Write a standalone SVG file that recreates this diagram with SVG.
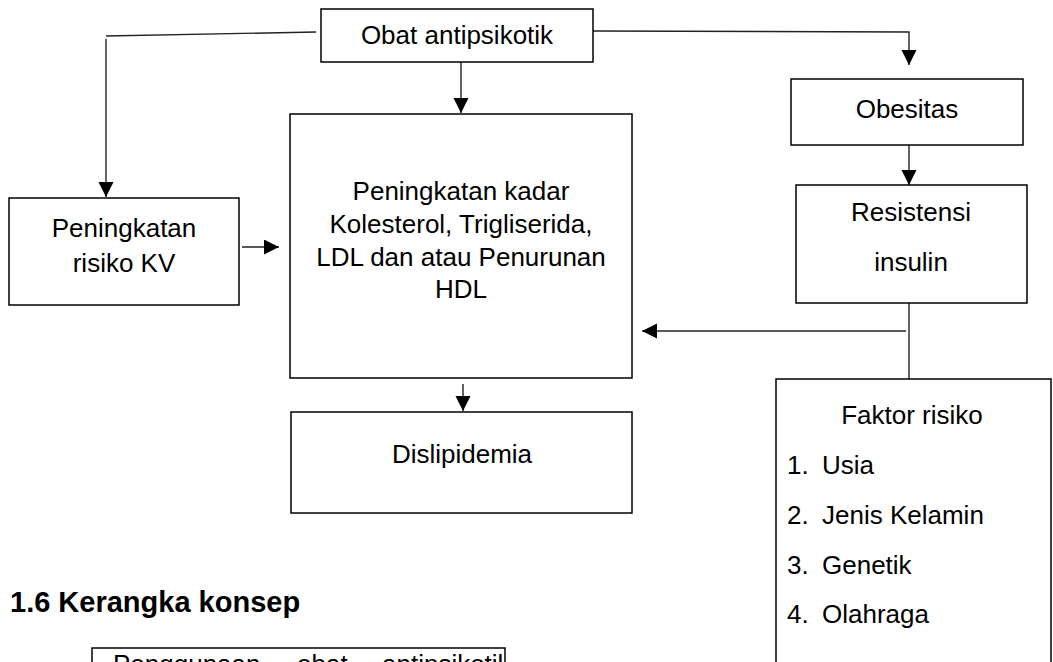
<svg xmlns="http://www.w3.org/2000/svg" width="1053" height="662" viewBox="0 0 1053 662">
<defs>
<style>
.box{fill:#fff;stroke:#000;stroke-width:1.5}
.t{font-family:"Liberation Sans",Arial,sans-serif;font-size:26px;fill:#000}
.c{text-anchor:middle}
.h{font-family:"Liberation Sans",Arial,sans-serif;font-size:29px;font-weight:bold;fill:#000}
.ln{fill:none;stroke:#222;stroke-width:1.4}
</style>
<marker id="ah" markerUnits="userSpaceOnUse" markerWidth="16" markerHeight="16" viewBox="0 0 16 16" refX="15" refY="7.5" orient="auto">
<path d="M0,0 L15,7.5 L0,15 z" fill="#000"/>
</marker>
<clipPath id="clipB"><rect x="92" y="648" width="413" height="20"/></clipPath>
</defs>
<rect width="1053" height="662" fill="#fff"/>
<g id="connectors">
<path class="ln" d="M316,32 L106,36"/>
<path class="ln" d="M106,39 L106,197" marker-end="url(#ah)"/>
<path class="ln" d="M461,62 L461,113" marker-end="url(#ah)"/>
<path class="ln" d="M593,31 L909,32 L909,65" marker-end="url(#ah)"/>
<path class="ln" d="M242,247 L279,247" marker-end="url(#ah)"/>
<path class="ln" d="M909,132 L909,185" marker-end="url(#ah)"/>
<path class="ln" d="M909,303 L909,379"/>
<path class="ln" d="M906,331 L642,331" marker-end="url(#ah)"/>
<path class="ln" d="M463,384 L463,411" marker-end="url(#ah)"/>
</g>
<g id="obat">
<rect class="box" x="321" y="9" width="272" height="53"/>
<text class="t c" x="457" y="44">Obat antipsikotik</text>
</g>
<g id="kv">
<rect class="box" x="9" y="198" width="230" height="107"/>
<text class="t c" x="124" y="237">Peningkatan</text>
<text class="t c" x="124" y="272">risiko KV</text>
</g>
<g id="kadar">
<rect class="box" x="290" y="114" width="342" height="264"/>
<text class="t c" x="461" y="200">Peningkatan kadar</text>
<text class="t c" x="461" y="233">Kolesterol, Trigliserida,</text>
<text class="t c" x="461" y="266">LDL dan atau Penurunan</text>
<text class="t c" x="461" y="298">HDL</text>
</g>
<g id="obesitas">
<rect class="box" x="791" y="79" width="232" height="66"/>
<text class="t c" x="907" y="118">Obesitas</text>
</g>
<g id="resistensi">
<rect class="box" x="796" y="185" width="231" height="118"/>
<text class="t c" x="911" y="221">Resistensi</text>
<text class="t c" x="911" y="271">insulin</text>
</g>
<g id="faktor">
<rect class="box" x="776" y="379" width="275" height="320"/>
<text class="t c" x="912" y="424">Faktor risiko</text>
<text class="t" x="787" y="474">1.</text><text class="t" x="822" y="474">Usia</text>
<text class="t" x="787" y="524">2.</text><text class="t" x="822" y="524">Jenis Kelamin</text>
<text class="t" x="787" y="574">3.</text><text class="t" x="822" y="574">Genetik</text>
<text class="t" x="787" y="623">4.</text><text class="t" x="822" y="623">Olahraga</text>
</g>
<g id="dislipidemia">
<rect class="box" x="291" y="412" width="341" height="101"/>
<text class="t c" x="462" y="463">Dislipidemia</text>
</g>
<g id="heading">
<text class="h" x="10" y="612">1.6 Kerangka konsep</text>
</g>
<g id="penggunaan">
<rect class="box" x="92" y="648" width="413" height="50"/>
<g clip-path="url(#clipB)">
<text class="t" y="673"><tspan x="113">Penggunaan</tspan><tspan x="297">obat</tspan><tspan x="382">antipsikotik</tspan></text>
</g>
</g>
</svg>
